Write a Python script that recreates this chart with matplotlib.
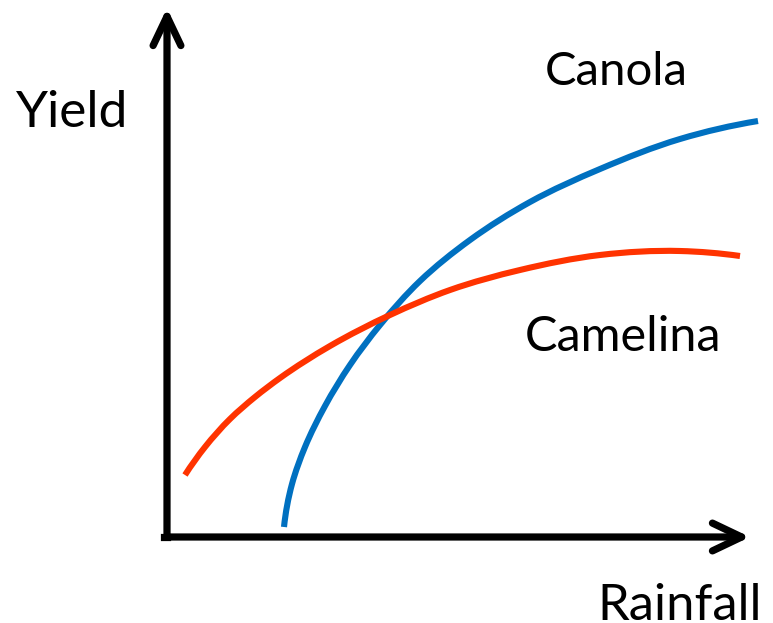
import matplotlib
matplotlib.use("Agg")
import matplotlib.pyplot as plt
from matplotlib.patches import FancyArrowPatch, PathPatch
from matplotlib.path import Path

plt.rcParams['font.family'] = ['Lato', 'DejaVu Sans']

# conceptual curves, rainfall / yield in arbitrary units (origin at the axes corner)
canola_rain = [117, 125, 138, 158, 183, 213, 253, 303, 363, 433, 513, 591]
canola_yield = [10, 53, 90, 131, 172, 212, 256, 297, 335, 368, 398, 416]

camelina_rain = [18, 38, 63, 88, 113, 163, 223, 283, 353, 433, 513, 573]
camelina_yield = [62, 90, 118, 140, 159, 191, 222, 247, 267, 282, 286, 281]

labels = ["Canola", "Camelina"]
colors = ["#0070C0", "#FF3300"]


def smooth_path(xs, ys):
    # parametric cubic hermite through the read points, chord-length spacing
    n = len(xs)
    h = [((xs[i + 1] - xs[i]) ** 2 + (ys[i + 1] - ys[i]) ** 2) ** 0.5 for i in range(n - 1)]

    def slopes(v):
        d = [(v[i + 1] - v[i]) / h[i] for i in range(n - 1)]
        m = [0.0] * n
        for i in range(1, n - 1):
            m[i] = (h[i] * d[i - 1] + h[i - 1] * d[i]) / (h[i - 1] + h[i])
        m[0] = 2 * d[0] - m[1]
        m[-1] = 2 * d[-1] - m[-2]
        return m

    mx, my = slopes(xs), slopes(ys)
    verts = [(xs[0], ys[0])]
    codes = [Path.MOVETO]
    for i in range(n - 1):
        verts += [(xs[i] + mx[i] * h[i] / 3, ys[i] + my[i] * h[i] / 3),
                  (xs[i + 1] - mx[i + 1] * h[i] / 3, ys[i + 1] - my[i + 1] * h[i] / 3),
                  (xs[i + 1], ys[i + 1])]
        codes += [Path.CURVE4] * 3
    return Path(verts, codes)


fig = plt.figure(figsize=(7.73, 6.23), dpi=100)
ax = fig.add_axes([0, 0, 1, 1])
ax.set_xlim(-167, 606)
ax.set_ylim(-86, 537)
ax.axis("off")

for xs, ys, c in [(canola_rain, canola_yield, colors[0]),
                  (camelina_rain, camelina_yield, colors[1])]:
    ax.add_patch(PathPatch(smooth_path(xs, ys), facecolor="none", edgecolor=c,
                           lw=4.4, capstyle="butt"))

# axes arrows
for end in [(0, 529), (583, 0)]:
    arr = FancyArrowPatch((0, 0), end, arrowstyle="->,head_length=21,head_width=10",
                          mutation_scale=1, lw=5.2, color="black",
                          capstyle="round", joinstyle="round", shrinkA=0, shrinkB=0)
    ax.add_patch(arr)
ax.plot([-3, 0], [0, 0], color="black", lw=5.2, solid_capstyle="projecting")

ax.text(-151, 410, "Yield", fontsize=37, ha="left", va="baseline")
ax.text(430, -83, "Rainfall", fontsize=36.5, ha="left", va="baseline")
ax.text(378, 452, labels[0], fontsize=34, ha="left", va="baseline")
ax.text(358, 186, labels[1], fontsize=35, ha="left", va="baseline")

fig.savefig("out.png", dpi=100, facecolor="white")
